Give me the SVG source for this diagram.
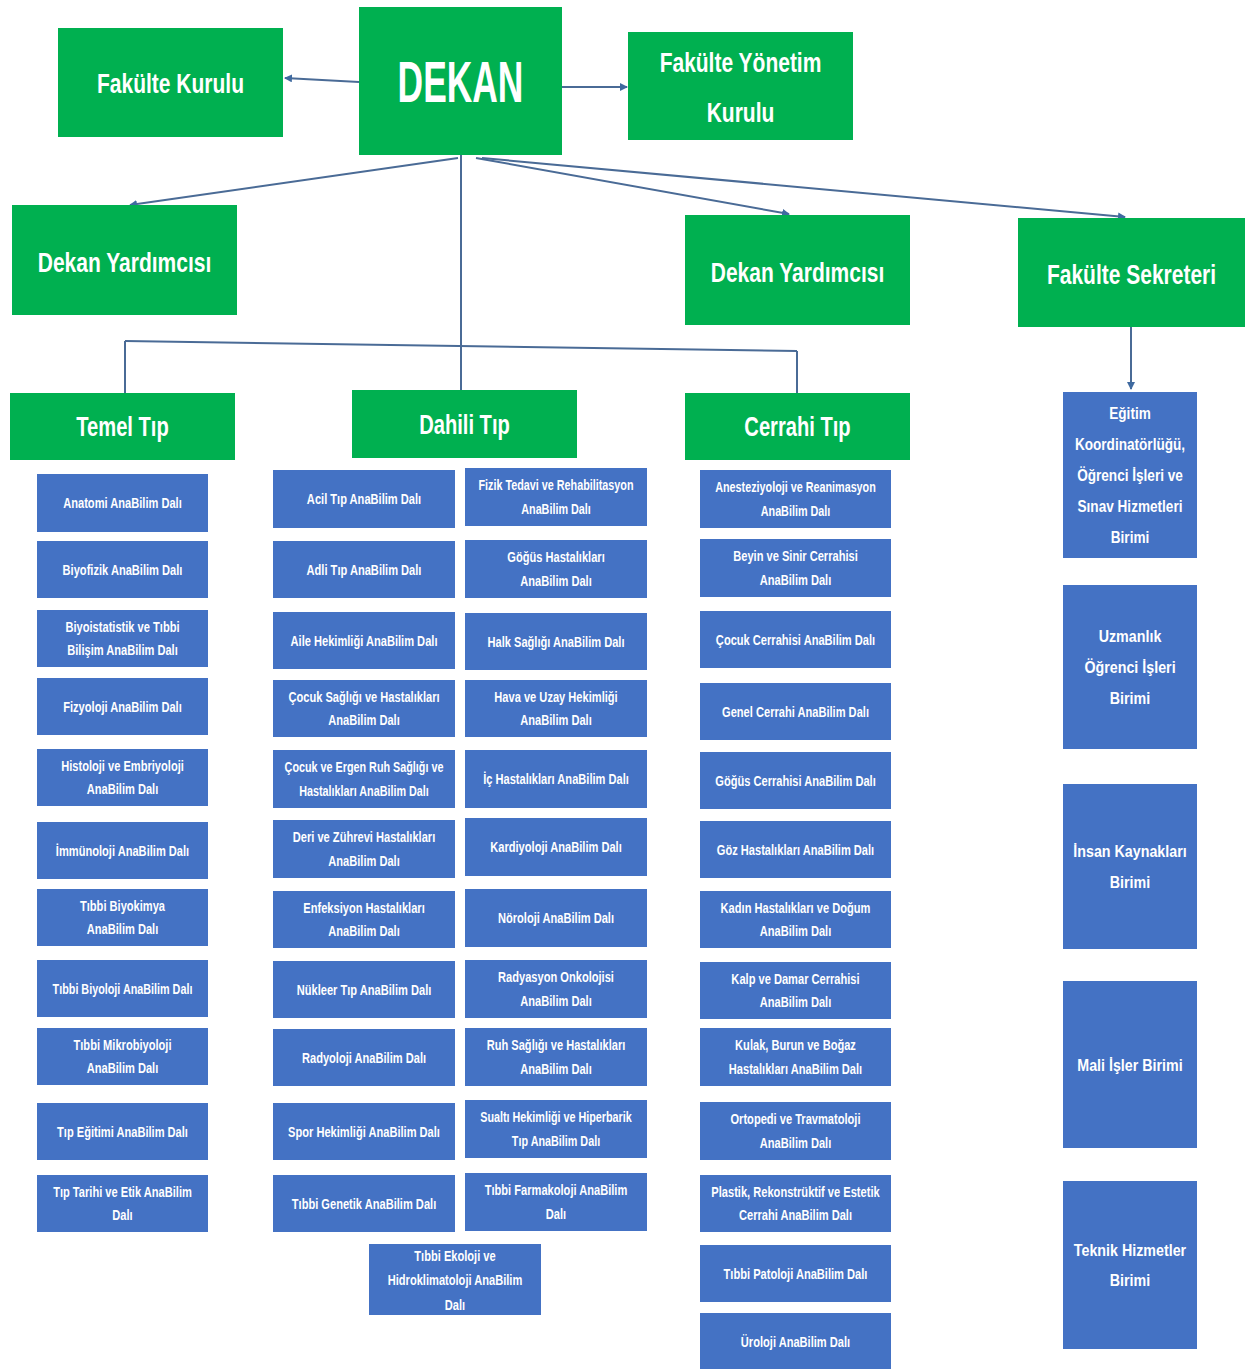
<svg xmlns="http://www.w3.org/2000/svg" width="1250" height="1370" viewBox="0 0 1250 1370">
<style>
.g{fill:#00B050}
.b{fill:#4472C4}
.gt{font-family:"Liberation Sans",Arial,sans-serif;font-weight:bold;font-size:28px;fill:#fff;text-anchor:middle}
.bt{font-family:"Liberation Sans",Arial,sans-serif;font-weight:bold;font-size:15px;fill:#fff;text-anchor:middle}
.st{font-family:"Liberation Sans",Arial,sans-serif;font-weight:bold;font-size:17px;fill:#fff;text-anchor:middle}
.c{stroke:#4a6b96;stroke-width:2;fill:none}
</style>
<defs>
<marker id="ah" markerWidth="8" markerHeight="8" refX="7" refY="4" orient="auto" markerUnits="userSpaceOnUse">
<path d="M0,0 L8,4 L0,8 z" fill="#3f6aa0"/>
</marker>
</defs>
<rect width="1250" height="1370" fill="#fff"/>

<g id="connectors">
<line class="c" x1="359" y1="82" x2="285" y2="78" marker-end="url(#ah)"/>
<line class="c" x1="562" y1="87" x2="627" y2="87" marker-end="url(#ah)"/>
<line class="c" x1="458" y1="158" x2="130" y2="205" marker-end="url(#ah)"/>
<line class="c" x1="476" y1="158" x2="789" y2="214" marker-end="url(#ah)"/>
<line class="c" x1="482" y1="158" x2="1125" y2="217" marker-end="url(#ah)"/>
<line class="c" x1="461" y1="155" x2="461" y2="390"/>
<line class="c" x1="125" y1="341" x2="797" y2="351"/>
<line class="c" x1="125" y1="341" x2="125" y2="393"/>
<line class="c" x1="797" y1="351" x2="797" y2="393"/>
<line class="c" x1="1131" y1="327" x2="1131" y2="389" marker-end="url(#ah)"/>
</g>

<g id="dekan"><rect class="g" x="359" y="7" width="203" height="148"/>
<text class="gt" style="font-size:58px" transform="translate(460.5,102) scale(0.61,1)">DEKAN</text></g>
<g id="fakulte-kurulu"><rect class="g" x="58" y="28" width="225" height="109"/>
<text class="gt" transform="translate(170.5,93) scale(0.75,1)">Fakülte Kurulu</text></g>
<g id="fakulte-yonetim-kurulu"><rect class="g" x="628" y="32" width="225" height="108"/>
<text class="gt" transform="translate(740.5,72) scale(0.75,1)"><tspan x="0">Fakülte Yönetim</tspan><tspan x="0" dy="50">Kurulu</tspan></text></g>
<g id="dekan-yardimcisi-1"><rect class="g" x="12" y="205" width="225" height="110"/>
<text class="gt" transform="translate(124.5,272) scale(0.75,1)">Dekan Yardımcısı</text></g>
<g id="dekan-yardimcisi-2"><rect class="g" x="685" y="215" width="225" height="110"/>
<text class="gt" transform="translate(797.5,282) scale(0.75,1)">Dekan Yardımcısı</text></g>
<g id="fakulte-sekreteri"><rect class="g" x="1018" y="218" width="227" height="109"/>
<text class="gt" transform="translate(1131.5,284) scale(0.75,1)">Fakülte Sekreteri</text></g>
<g id="temel-tip"><rect class="g" x="10" y="393" width="225" height="67"/>
<text class="gt" transform="translate(122.5,436) scale(0.72,1)">Temel Tıp</text></g>
<g id="dahili-tip"><rect class="g" x="352" y="390" width="225" height="68"/>
<text class="gt" transform="translate(464.5,434) scale(0.72,1)">Dahili Tıp</text></g>
<g id="cerrahi-tip"><rect class="g" x="685" y="393" width="225" height="67"/>
<text class="gt" transform="translate(797.5,436) scale(0.72,1)">Cerrahi Tıp</text></g>

<!-- Temel Tıp column -->
<g id="t1"><rect class="b" x="37" y="474" width="171" height="58"/><text class="bt" transform="translate(122.5,508) scale(0.74,1)">Anatomi AnaBilim Dalı</text></g>
<g id="t2"><rect class="b" x="37" y="541" width="171" height="57"/><text class="bt" transform="translate(122.5,574.5) scale(0.74,1)">Biyofizik AnaBilim Dalı</text></g>
<g id="t3"><rect class="b" x="37" y="610" width="171" height="57"/><text class="bt" transform="translate(122.5,631.5) scale(0.74,1)"><tspan x="0">Biyoistatistik ve Tıbbi</tspan><tspan x="0" dy="24">Bilişim AnaBilim Dalı</tspan></text></g>
<g id="t4"><rect class="b" x="37" y="678" width="171" height="57"/><text class="bt" transform="translate(122.5,711.5) scale(0.74,1)">Fizyoloji AnaBilim Dalı</text></g>
<g id="t5"><rect class="b" x="37" y="749" width="171" height="57"/><text class="bt" transform="translate(122.5,770.5) scale(0.74,1)"><tspan x="0">Histoloji ve Embriyoloji</tspan><tspan x="0" dy="24">AnaBilim Dalı</tspan></text></g>
<g id="t6"><rect class="b" x="37" y="822" width="171" height="57"/><text class="bt" transform="translate(122.5,855.5) scale(0.74,1)">İmmünoloji AnaBilim Dalı</text></g>
<g id="t7"><rect class="b" x="37" y="889" width="171" height="57"/><text class="bt" transform="translate(122.5,910.5) scale(0.74,1)"><tspan x="0">Tıbbi Biyokimya</tspan><tspan x="0" dy="24">AnaBilim Dalı</tspan></text></g>
<g id="t8"><rect class="b" x="37" y="960" width="171" height="57"/><text class="bt" transform="translate(122.5,993.5) scale(0.72,1)">Tıbbi Biyoloji AnaBilim Dalı</text></g>
<g id="t9"><rect class="b" x="37" y="1028" width="171" height="57"/><text class="bt" transform="translate(122.5,1049.5) scale(0.74,1)"><tspan x="0">Tıbbi Mikrobiyoloji</tspan><tspan x="0" dy="24">AnaBilim Dalı</tspan></text></g>
<g id="t10"><rect class="b" x="37" y="1103" width="171" height="57"/><text class="bt" transform="translate(122.5,1136.5) scale(0.74,1)">Tıp Eğitimi AnaBilim Dalı</text></g>
<g id="t11"><rect class="b" x="37" y="1175" width="171" height="57"/><text class="bt" transform="translate(122.5,1196.5) scale(0.74,1)"><tspan x="0">Tıp Tarihi ve Etik AnaBilim</tspan><tspan x="0" dy="24">Dalı</tspan></text></g>

<!-- Dahili Tıp left column -->
<g id="dl1"><rect class="b" x="273" y="470" width="182" height="58"/><text class="bt" transform="translate(364,504) scale(0.74,1)">Acil Tıp AnaBilim Dalı</text></g>
<g id="dl2"><rect class="b" x="273" y="541" width="182" height="57"/><text class="bt" transform="translate(364,574.5) scale(0.74,1)">Adli Tıp AnaBilim Dalı</text></g>
<g id="dl3"><rect class="b" x="273" y="612" width="182" height="57"/><text class="bt" transform="translate(364,645.5) scale(0.74,1)">Aile Hekimliği AnaBilim Dalı</text></g>
<g id="dl4"><rect class="b" x="273" y="680" width="182" height="57"/><text class="bt" transform="translate(364,701.5) scale(0.74,1)"><tspan x="0">Çocuk Sağlığı ve Hastalıkları</tspan><tspan x="0" dy="24">AnaBilim Dalı</tspan></text></g>
<g id="dl5"><rect class="b" x="273" y="750" width="182" height="58"/><text class="bt" transform="translate(364,772) scale(0.72,1)"><tspan x="0">Çocuk ve Ergen Ruh Sağlığı ve</tspan><tspan x="0" dy="24">Hastalıkları AnaBilim Dalı</tspan></text></g>
<g id="dl6"><rect class="b" x="273" y="820" width="182" height="58"/><text class="bt" transform="translate(364,842) scale(0.74,1)"><tspan x="0">Deri ve Zührevi Hastalıkları</tspan><tspan x="0" dy="24">AnaBilim Dalı</tspan></text></g>
<g id="dl7"><rect class="b" x="273" y="891" width="182" height="57"/><text class="bt" transform="translate(364,912.5) scale(0.74,1)"><tspan x="0">Enfeksiyon Hastalıkları</tspan><tspan x="0" dy="24">AnaBilim Dalı</tspan></text></g>
<g id="dl8"><rect class="b" x="273" y="961" width="182" height="57"/><text class="bt" transform="translate(364,994.5) scale(0.74,1)">Nükleer Tıp AnaBilim Dalı</text></g>
<g id="dl9"><rect class="b" x="273" y="1029" width="182" height="57"/><text class="bt" transform="translate(364,1062.5) scale(0.74,1)">Radyoloji AnaBilim Dalı</text></g>
<g id="dl10"><rect class="b" x="273" y="1103" width="182" height="57"/><text class="bt" transform="translate(364,1136.5) scale(0.74,1)">Spor Hekimliği AnaBilim Dalı</text></g>
<g id="dl11"><rect class="b" x="273" y="1175" width="182" height="57"/><text class="bt" transform="translate(364,1208.5) scale(0.74,1)">Tıbbi Genetik AnaBilim Dalı</text></g>

<!-- Dahili Tıp right column -->
<g id="dr1"><rect class="b" x="465" y="468" width="182" height="58"/><text class="bt" transform="translate(556,490) scale(0.72,1)"><tspan x="0">Fizik Tedavi ve Rehabilitasyon</tspan><tspan x="0" dy="24">AnaBilim Dalı</tspan></text></g>
<g id="dr2"><rect class="b" x="465" y="540" width="182" height="58"/><text class="bt" transform="translate(556,562) scale(0.74,1)"><tspan x="0">Göğüs Hastalıkları</tspan><tspan x="0" dy="24">AnaBilim Dalı</tspan></text></g>
<g id="dr3"><rect class="b" x="465" y="613" width="182" height="57"/><text class="bt" transform="translate(556,646.5) scale(0.74,1)">Halk Sağlığı AnaBilim Dalı</text></g>
<g id="dr4"><rect class="b" x="465" y="680" width="182" height="57"/><text class="bt" transform="translate(556,701.5) scale(0.74,1)"><tspan x="0">Hava ve Uzay Hekimliği</tspan><tspan x="0" dy="24">AnaBilim Dalı</tspan></text></g>
<g id="dr5"><rect class="b" x="465" y="750" width="182" height="58"/><text class="bt" transform="translate(556,784) scale(0.74,1)">İç Hastalıkları AnaBilim Dalı</text></g>
<g id="dr6"><rect class="b" x="465" y="818" width="182" height="58"/><text class="bt" transform="translate(556,852) scale(0.74,1)">Kardiyoloji AnaBilim Dalı</text></g>
<g id="dr7"><rect class="b" x="465" y="889" width="182" height="58"/><text class="bt" transform="translate(556,923) scale(0.74,1)">Nöroloji AnaBilim Dalı</text></g>
<g id="dr8"><rect class="b" x="465" y="960" width="182" height="58"/><text class="bt" transform="translate(556,982) scale(0.74,1)"><tspan x="0">Radyasyon Onkolojisi</tspan><tspan x="0" dy="24">AnaBilim Dalı</tspan></text></g>
<g id="dr9"><rect class="b" x="465" y="1028" width="182" height="58"/><text class="bt" transform="translate(556,1050) scale(0.74,1)"><tspan x="0">Ruh Sağlığı ve Hastalıkları</tspan><tspan x="0" dy="24">AnaBilim Dalı</tspan></text></g>
<g id="dr10"><rect class="b" x="465" y="1100" width="182" height="58"/><text class="bt" transform="translate(556,1122) scale(0.72,1)"><tspan x="0">Sualtı Hekimliği ve Hiperbarik</tspan><tspan x="0" dy="24">Tıp AnaBilim Dalı</tspan></text></g>
<g id="dr11"><rect class="b" x="465" y="1173" width="182" height="58"/><text class="bt" transform="translate(556,1195) scale(0.74,1)"><tspan x="0">Tıbbi Farmakoloji AnaBilim</tspan><tspan x="0" dy="24">Dalı</tspan></text></g>
<g id="d12"><rect class="b" x="369" y="1244" width="172" height="71"/><text class="bt" transform="translate(455,1260.5) scale(0.74,1)"><tspan x="0">Tıbbi Ekoloji ve</tspan><tspan x="0" dy="25">Hidroklimatoloji AnaBilim</tspan><tspan x="0" dy="25">Dalı</tspan></text></g>

<!-- Cerrahi Tıp column -->
<g id="c1"><rect class="b" x="700" y="470" width="191" height="58"/><text class="bt" transform="translate(795.5,492) scale(0.72,1)"><tspan x="0">Anesteziyoloji ve Reanimasyon</tspan><tspan x="0" dy="24">AnaBilim Dalı</tspan></text></g>
<g id="c2"><rect class="b" x="700" y="539" width="191" height="58"/><text class="bt" transform="translate(795.5,561) scale(0.74,1)"><tspan x="0">Beyin ve Sinir Cerrahisi</tspan><tspan x="0" dy="24">AnaBilim Dalı</tspan></text></g>
<g id="c3"><rect class="b" x="700" y="611" width="191" height="57"/><text class="bt" transform="translate(795.5,644.5) scale(0.74,1)">Çocuk Cerrahisi AnaBilim Dalı</text></g>
<g id="c4"><rect class="b" x="700" y="683" width="191" height="57"/><text class="bt" transform="translate(795.5,716.5) scale(0.74,1)">Genel Cerrahi AnaBilim Dalı</text></g>
<g id="c5"><rect class="b" x="700" y="752" width="191" height="57"/><text class="bt" transform="translate(795.5,785.5) scale(0.74,1)">Göğüs Cerrahisi AnaBilim Dalı</text></g>
<g id="c6"><rect class="b" x="700" y="821" width="191" height="57"/><text class="bt" transform="translate(795.5,854.5) scale(0.74,1)">Göz Hastalıkları AnaBilim Dalı</text></g>
<g id="c7"><rect class="b" x="700" y="891" width="191" height="57"/><text class="bt" transform="translate(795.5,912.5) scale(0.74,1)"><tspan x="0">Kadın Hastalıkları ve Doğum</tspan><tspan x="0" dy="24">AnaBilim Dalı</tspan></text></g>
<g id="c8"><rect class="b" x="700" y="962" width="191" height="57"/><text class="bt" transform="translate(795.5,983.5) scale(0.74,1)"><tspan x="0">Kalp ve Damar Cerrahisi</tspan><tspan x="0" dy="24">AnaBilim Dalı</tspan></text></g>
<g id="c9"><rect class="b" x="700" y="1028" width="191" height="58"/><text class="bt" transform="translate(795.5,1050) scale(0.74,1)"><tspan x="0">Kulak, Burun ve Boğaz</tspan><tspan x="0" dy="24">Hastalıkları AnaBilim Dalı</tspan></text></g>
<g id="c10"><rect class="b" x="700" y="1102" width="191" height="58"/><text class="bt" transform="translate(795.5,1124) scale(0.74,1)"><tspan x="0">Ortopedi ve Travmatoloji</tspan><tspan x="0" dy="24">AnaBilim Dalı</tspan></text></g>
<g id="c11"><rect class="b" x="700" y="1175" width="191" height="57"/><text class="bt" transform="translate(795.5,1196.5) scale(0.74,1)"><tspan x="0">Plastik, Rekonstrüktif ve Estetik</tspan><tspan x="0" dy="24">Cerrahi AnaBilim Dalı</tspan></text></g>
<g id="c12"><rect class="b" x="700" y="1245" width="191" height="57"/><text class="bt" transform="translate(795.5,1278.5) scale(0.74,1)">Tıbbi Patoloji AnaBilim Dalı</text></g>
<g id="c13"><rect class="b" x="700" y="1313" width="191" height="56"/><text class="bt" transform="translate(795.5,1346.5) scale(0.74,1)">Üroloji AnaBilim Dalı</text></g>

<!-- Fakülte Sekreteri units -->
<g id="s1"><rect class="b" x="1063" y="392" width="134" height="166"/><text class="st" transform="translate(1130,419) scale(0.8,1)"><tspan x="0">Eğitim</tspan><tspan x="0" dy="31">Koordinatörlüğü,</tspan><tspan x="0" dy="31">Öğrenci İşleri ve</tspan><tspan x="0" dy="31">Sınav Hizmetleri</tspan><tspan x="0" dy="31">Birimi</tspan></text></g>
<g id="s2"><rect class="b" x="1063" y="585" width="134" height="164"/><text class="st" transform="translate(1130,642) scale(0.84,1)"><tspan x="0">Uzmanlık</tspan><tspan x="0" dy="31">Öğrenci İşleri</tspan><tspan x="0" dy="31">Birimi</tspan></text></g>
<g id="s3"><rect class="b" x="1063" y="784" width="134" height="165"/><text class="st" transform="translate(1130,857) scale(0.84,1)"><tspan x="0">İnsan Kaynakları</tspan><tspan x="0" dy="31">Birimi</tspan></text></g>
<g id="s4"><rect class="b" x="1063" y="981" width="134" height="167"/><text class="st" transform="translate(1130,1070.5) scale(0.84,1)">Mali İşler Birimi</text></g>
<g id="s5"><rect class="b" x="1063" y="1181" width="134" height="168"/><text class="st" transform="translate(1130,1255.5) scale(0.84,1)"><tspan x="0">Teknik Hizmetler</tspan><tspan x="0" dy="31">Birimi</tspan></text></g>
</svg>
